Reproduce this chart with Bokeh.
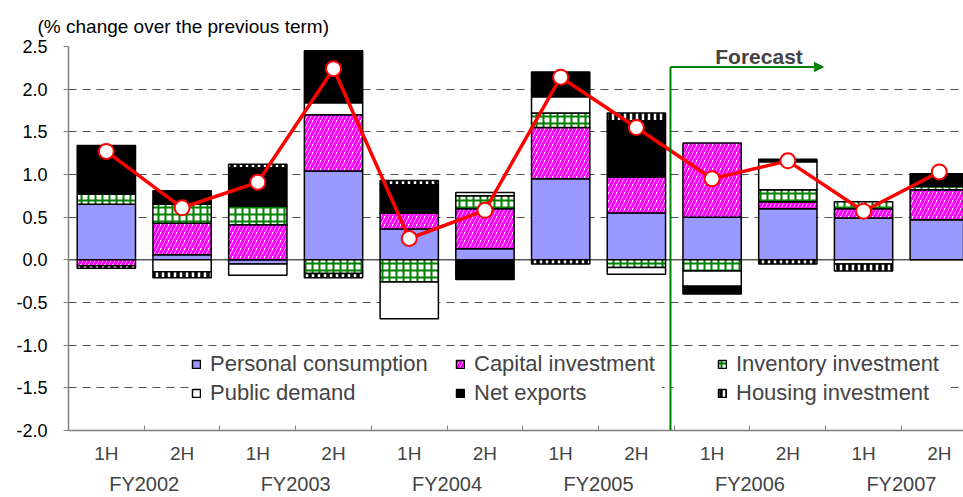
import numpy as np
from bokeh.plotting import figure
from bokeh.models import (ColumnDataSource, Range1d, FixedTicker, Legend, LinearAxis,
                          LegendItem, Span, Label, Arrow, NormalHead, Title, BoxAnnotation,
                          CustomJSTickFormatter, PrintfTickFormatter)
from bokeh.embed import file_html
from bokeh.resources import INLINE

# ---------------- data ----------------
half_labels = ["1H", "2H", "1H", "2H", "1H", "2H", "1H", "2H", "1H", "2H", "1H", "2H"]
fiscal_years = ["FY2002", "FY2003", "FY2004", "FY2005", "FY2006", "FY2007"]

personal_consumption = [0.65, 0.06, -0.05, 1.04, 0.36, 0.13, 0.95, 0.55, 0.50, 0.60, 0.49, 0.47]
capital_investment   = [-0.07, 0.37, 0.41, 0.66, 0.19, 0.47, 0.60, 0.42, 0.87, 0.08, 0.11, 0.35]
inventory_investment = [0.12, 0.22, 0.22, -0.16, -0.26, 0.15, 0.17, -0.09, -0.13, 0.14, 0.08, 0.04]
public_demand        = [0.00, -0.14, -0.13, 0.14, -0.43, 0.04, 0.19, -0.08, -0.18, 0.33, -0.05, 0.00]
net_exports          = [0.57, 0.16, 0.45, 0.61, 0.33, -0.23, 0.29, 0.66, -0.09, 0.03, 0.00, 0.15]
housing_investment   = [-0.03, -0.07, 0.04, -0.05, 0.05, 0.00, -0.05, 0.09, 0.00, -0.05, -0.08, 0.00]
real_gdp             = [1.27, 0.61, 0.91, 2.24, 0.25, 0.58, 2.14, 1.55, 0.95, 1.16, 0.57, 1.03]

y_ticks = [-2.0, -1.5, -1.0, -0.5, 0.0, 0.5, 1.0, 1.5, 2.0, 2.5]
forecast_text = "Forecast"
title_text = "(% change over the previous term)"

# ---------------- figure ----------------
FONT = "Liberation Sans"
GREY = "#808080"

p = figure(width=963, height=497, output_backend="svg", toolbar_location=None,
           x_range=Range1d(-0.5, 11.32), y_range=Range1d(-2.0, 2.5),
           min_border_left=68, min_border_right=0, min_border_top=46,
           min_border_bottom=65)
p.outline_line_color = None
p.xgrid.visible = False
p.ygrid.ticker = FixedTicker(ticks=[t for t in y_ticks if t not in (0.0, -2.0)])
p.ygrid.grid_line_color = "#505050"
p.ygrid.grid_line_dash = "8 6"
p.ygrid.grid_line_width = 1

# title
p.add_layout(Title(text=title_text, align="left", offset=-31, standoff=20,
                   text_font=FONT, text_font_size="19px", text_font_style="normal",
                   text_color="black"), "above")

# y axis
yax = p.yaxis[0]
yax.ticker = FixedTicker(ticks=y_ticks)
yax.formatter = PrintfTickFormatter(format="%.1f")
yax.axis_line_color = GREY
yax.axis_line_width = 1.5
yax.major_tick_line_color = GREY
yax.major_tick_in = 0
yax.major_tick_out = 5
yax.minor_tick_line_color = None
yax.major_label_text_font = FONT
yax.major_label_text_font_size = "18px"
yax.major_label_text_color = "black"
yax.major_label_standoff = 16

x = np.arange(len(half_labels))
boundaries = list(np.arange(len(half_labels) + 1) - 0.5)

xax = p.xaxis[0]
xax.ticker = FixedTicker(ticks=list(x), minor_ticks=boundaries)
xax.formatter = CustomJSTickFormatter(args=dict(labels=half_labels),
                                      code="return labels[Math.round(tick)] || '';")
xax.axis_line_color = GREY
xax.axis_line_width = 1.5
xax.major_tick_line_color = None
xax.major_tick_in = 0
xax.major_tick_out = 0
xax.minor_tick_line_color = GREY
xax.minor_tick_in = 5
xax.minor_tick_out = 0
xax.major_label_text_font = FONT
xax.major_label_text_font_size = "19px"
xax.major_label_standoff = 12

year_centers = [2 * i + 0.5 for i in range(len(fiscal_years))]
yr_ax = LinearAxis(ticker=FixedTicker(ticks=year_centers),
                   formatter=CustomJSTickFormatter(args=dict(labels=fiscal_years),
                                                   code="return labels[Math.floor(tick / 2)] || '';"))
yr_ax.axis_line_color = None
yr_ax.major_tick_line_color = None
yr_ax.major_tick_in = 0
yr_ax.major_tick_out = 0
yr_ax.minor_tick_line_color = None
yr_ax.minor_tick_in = 0
yr_ax.minor_tick_out = 0
yr_ax.major_label_text_font = FONT
yr_ax.major_label_text_font_size = "20px"
yr_ax.major_label_standoff = 6
p.add_layout(yr_ax, "below")

# zero line
p.add_layout(Span(location=0, dimension="width", line_color="black", line_width=1,
                  level="underlay"))

# ---------------- stacked bars ----------------
series = [
    ("Personal consumption", personal_consumption,
     dict(fill_color="#9999FF")),
    ("Capital investment", capital_investment,
     dict(fill_color="white", hatch_pattern="right_diagonal_line", hatch_color="#FF00FF",
          hatch_scale=8, hatch_weight=3)),
    ("Inventory investment", inventory_investment,
     dict(fill_color="white", hatch_pattern="cross", hatch_color="#008000",
          hatch_scale=7, hatch_weight=2)),
    ("Public demand", public_demand,
     dict(fill_color="white")),
    ("Net exports", net_exports,
     dict(fill_color="black")),
    ("Housing investment", housing_investment,
     dict(fill_color="white", hatch_pattern="vertical_line", hatch_color="black",
          hatch_scale=6, hatch_weight=3.5)),
]

pos_base = np.zeros(len(x))
neg_base = np.zeros(len(x))
items = {}
for name, vals, style in series:
    v = np.array(vals, dtype=float)
    bottom = np.where(v > 0, pos_base, np.where(v < 0, neg_base, np.nan))
    top = np.where(v != 0, bottom + v, np.nan)
    pos_base = pos_base + np.clip(v, 0, None)
    neg_base = neg_base + np.clip(v, None, 0)
    src = ColumnDataSource(dict(x=x, bottom=bottom, top=top))
    r = p.vbar(x="x", bottom="bottom", top="top", width=0.77, source=src,
               line_color="black", line_width=1.5, **style)
    items[name] = LegendItem(label=name, renderers=[r])

# ---------------- GDP line ----------------
p.line(x, real_gdp, line_color="#FF0000", line_width=3.5)
p.scatter(x, real_gdp, size=15, fill_color="white", line_color="#FF0000", line_width=2)

# ---------------- forecast boundary position ----------------
fx = 7.45
arrow_y = 2.26
green = "#008000"

# white backing between the legend columns (right of the forecast line)
p.add_layout(BoxAnnotation(left=fx + 0.04, right=8.1, bottom=-1.71, top=-1.05,
                           fill_color="white", fill_alpha=1.0, line_color=None,
                           level="annotation"))

# ---------------- legends ----------------
def make_legend(names, loc, lw):
    lg = Legend(items=[items[n] for n in names], location=loc, orientation="vertical",
                label_text_font=FONT, label_text_font_size="22px",
                glyph_width=10, glyph_height=10, label_height=25, label_width=lw,
                label_standoff=9, spacing=3, padding=3, margin=0,
                border_line_color=None, background_fill_color="white",
                background_fill_alpha=1.0, level="annotation")
    p.add_layout(lg, "center")

make_legend(["Personal consumption", "Public demand"], (123, 24), 245)
make_legend(["Capital investment", "Net exports"], (387, 24), 188)
make_legend(["Inventory investment", "Housing investment"], (649, 24), 215)

# ---------------- forecast marker ----------------
p.add_layout(Arrow(end=None, x_start=fx, y_start=-2.0, x_end=fx, y_end=arrow_y,
                   line_color=green, line_width=2, level="overlay"))
p.add_layout(Arrow(end=NormalHead(size=9, fill_color=green, line_color=green),
                   x_start=fx, y_start=arrow_y, x_end=9.47, y_end=arrow_y,
                   line_color=green, line_width=2, level="overlay"))
p.add_layout(Label(x=8.62, y=2.386, text=forecast_text, text_align="center",
                   text_baseline="middle", text_font=FONT, text_font_size="21px",
                   text_font_style="bold", level="overlay"))

open("out.html", "w").write(file_html(p, INLINE))
